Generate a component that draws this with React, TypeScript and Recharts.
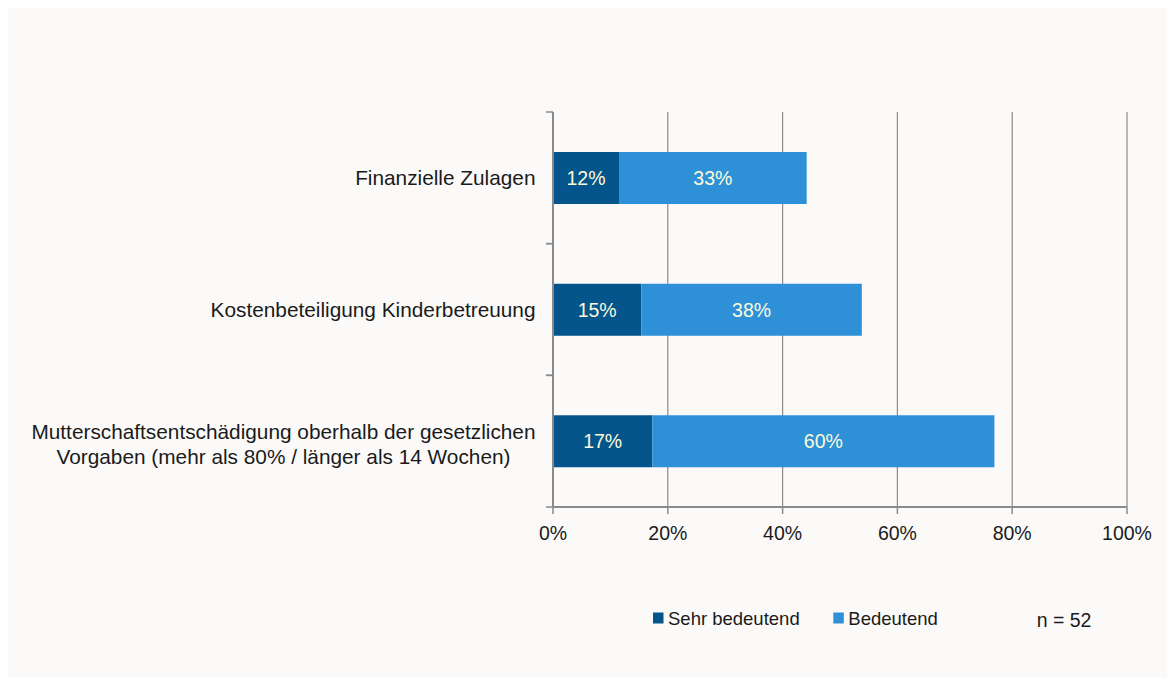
import React from 'react';
import { BarChart, Bar, XAxis, YAxis, CartesianGrid, LabelList } from 'recharts';

const categories = [
  'Finanzielle Zulagen',
  'Kostenbeteiligung Kinderbetreuung',
  'Mutterschaftsentschädigung oberhalb der gesetzlichen\nVorgaben (mehr als 80% / länger als 14 Wochen)',
];
const sehrBedeutend = [11.5, 15.4, 17.3];
const bedeutend = [32.7, 38.4, 59.6];
const seriesNames = ['Sehr bedeutend', 'Bedeutend'];
const xTicks = [0, 20, 40, 60, 80, 100];
const sampleNote = 'n = 52';

const data = categories.map((c, i) => ({ cat: c, sehr: sehrBedeutend[i], bed: bedeutend[i] }));

const DARK = '#03558c';
const LIGHT = '#2e91d8';
const LABEL = '#fdf9d9';
const AXIS = '#8a8a8a';
const TEXT = '#1a1a1a';
const FONT = '"Liberation Sans", Arial, sans-serif';
const CAT_SIZE = 20.8;

let ctx: CanvasRenderingContext2D | null = null;
function measure(t: string, size: number) {
  if (!ctx) ctx = document.createElement('canvas').getContext('2d');
  if (!ctx) return t.length * size * 0.5;
  ctx.font = `${size}px "Liberation Sans"`;
  return ctx.measureText(t).width;
}

const CatTick = (props: any) => {
  const { x, y, payload } = props;
  const half = payload && payload.offset ? payload.offset : 0;
  const lines = String(payload.value).split('\n');
  const cap = 0.716 * CAT_SIZE;
  const right = x - 17.5;
  let texts;
  if (lines.length === 1) {
    texts = (
      <text x={right} y={y + cap / 2} textAnchor="end" fontSize={CAT_SIZE} fill={TEXT} fontFamily={FONT}>
        {lines[0]}
      </text>
    );
  } else {
    const w = Math.max(...lines.map((l) => measure(l, CAT_SIZE)));
    const cx = right - w / 2;
    texts = lines.map((l, i) => (
      <text key={i} x={cx} y={y - 10 + i * 25 + cap / 2} textAnchor="middle" fontSize={CAT_SIZE} fill={TEXT} fontFamily={FONT}>
        {l}
      </text>
    ));
  }
  return (
    <g>
      <line x1={x - 7} x2={x} y1={y - half} y2={y - half} stroke={AXIS} strokeWidth={1.5} />
      <line x1={x - 7} x2={x} y1={y + half} y2={y + half} stroke={AXIS} strokeWidth={1.5} />
      {texts}
    </g>
  );
};

const fmt = (v: any) => `${Math.round(Number(v))}%`;

export default function App() {
  return (
    <div style={{ position: 'relative', marginLeft: -1, width: 1161, height: 669, background: '#fbfaf9', fontFamily: FONT }}>
      <BarChart
        width={1161}
        height={669}
        data={data}
        layout="vertical"
        margin={{ top: 104, right: 41, bottom: 130, left: 0 }}
        barSize={52}
      >
        <CartesianGrid horizontal={false} vertical={true} stroke={AXIS} strokeWidth={1.2} />
        <XAxis
          type="number"
          domain={[0, 100]}
          ticks={xTicks}
          tickFormatter={(v) => `${v}%`}
          height={40}
          tickSize={7}
          tickMargin={12}
          axisLine={{ stroke: AXIS, strokeWidth: 2 }}
          tickLine={{ stroke: AXIS, strokeWidth: 1.5 }}
          tick={{ fontSize: 19.5, fill: TEXT, fontFamily: FONT }}
          interval={0}
        />
        <YAxis
          type="category"
          dataKey="cat"
          width={546}
          tickSize={0}
          tickMargin={0}
          tickLine={false}
          axisLine={{ stroke: AXIS, strokeWidth: 2 }}
          tick={<CatTick />}
          interval={0}
        />
        <Bar dataKey="sehr" stackId="a" fill={DARK} isAnimationActive={false} name={seriesNames[0]}>
          <LabelList dataKey="sehr" position="center" formatter={fmt} fill={LABEL} fontSize={19.5} fontFamily={FONT} />
        </Bar>
        <Bar dataKey="bed" stackId="a" fill={LIGHT} isAnimationActive={false} name={seriesNames[1]}>
          <LabelList dataKey="bed" position="center" formatter={fmt} fill={LABEL} fontSize={19.5} fontFamily={FONT} />
        </Bar>
      </BarChart>
      <svg width={1161} height={669} style={{ position: 'absolute', left: 0, top: 0, pointerEvents: 'none' }}>
        <rect x={646} y={604.5} width={10.5} height={11} fill={DARK} />
        <text x={661} y={616.7} fontSize={18.5} fill={TEXT} fontFamily={FONT}>{seriesNames[0]}</text>
        <rect x={826.3} y={604.5} width={10.5} height={11} fill={LIGHT} />
        <text x={841.3} y={616.7} fontSize={18.5} fill={TEXT} fontFamily={FONT}>{seriesNames[1]}</text>
        <text x={1029.7} y={619} fontSize={19.5} fill={TEXT} fontFamily={FONT}>{sampleNote}</text>
      </svg>
    </div>
  );
}
